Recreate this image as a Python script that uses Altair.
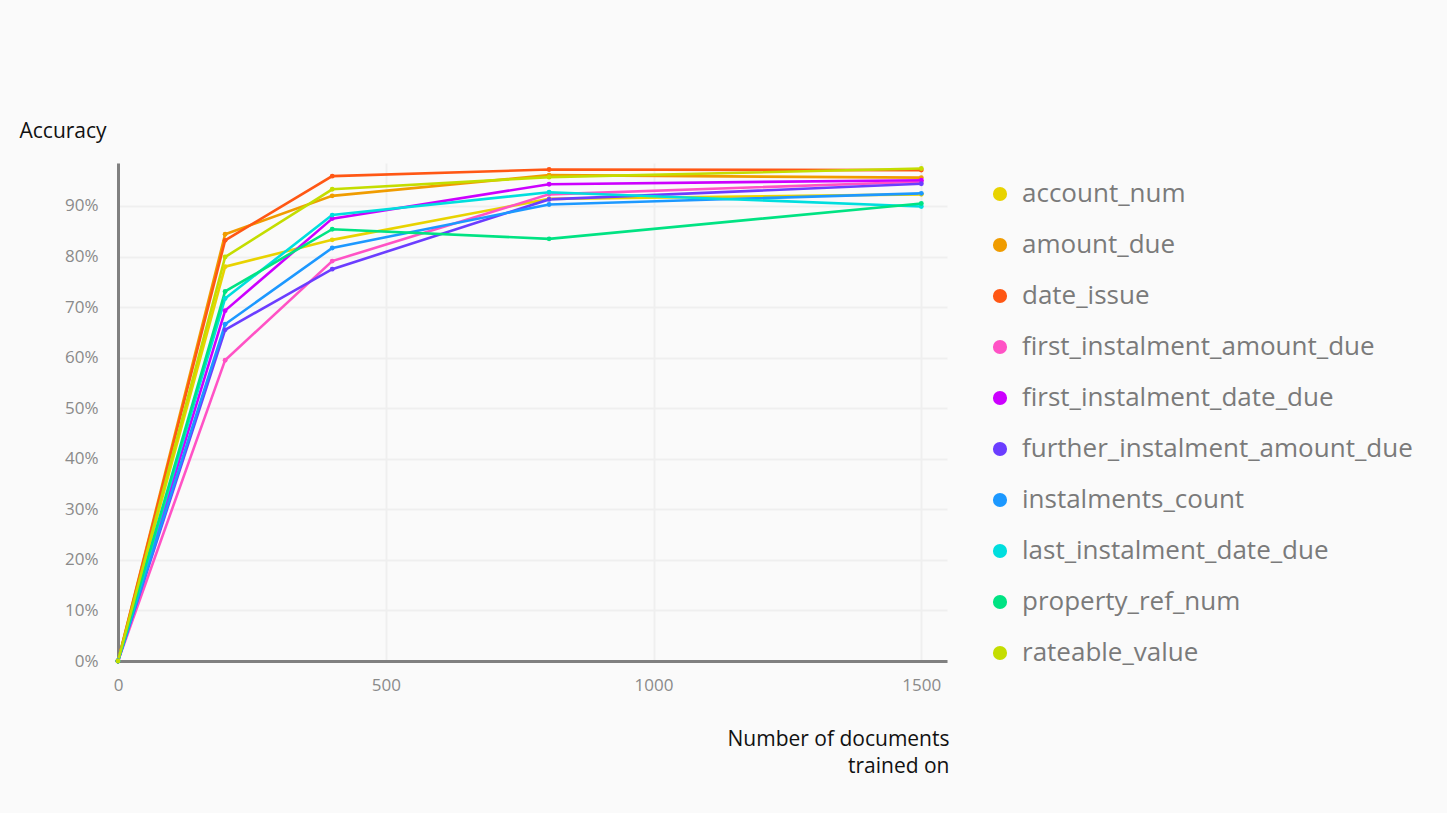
import altair as alt
import pandas as pd

series = [
    "account_num",
    "amount_due",
    "date_issue",
    "first_instalment_amount_due",
    "first_instalment_date_due",
    "further_instalment_amount_due",
    "instalments_count",
    "last_instalment_date_due",
    "property_ref_num",
    "rateable_value",
]
colors = ["#e8d300", "#f09c00", "#ff5714", "#ff52c5", "#cc00ff",
          "#6b3dff", "#1c98ff", "#00dede", "#00e383", "#c4dd00"]

docs = [0, 200, 400, 805, 1500]

acc = {
    "account_num":                   [0.0, 0.780, 0.833, 0.914, 0.923],
    "amount_due":                    [0.0, 0.844, 0.920, 0.961, 0.956],
    "date_issue":                    [0.0, 0.832, 0.959, 0.972, 0.971],
    "first_instalment_amount_due":   [0.0, 0.595, 0.791, 0.923, 0.948],
    "first_instalment_date_due":     [0.0, 0.693, 0.875, 0.943, 0.951],
    "further_instalment_amount_due": [0.0, 0.655, 0.775, 0.913, 0.944],
    "instalments_count":             [0.0, 0.666, 0.817, 0.903, 0.925],
    "last_instalment_date_due":      [0.0, 0.717, 0.882, 0.927, 0.899],
    "property_ref_num":              [0.0, 0.731, 0.854, 0.835, 0.905],
    "rateable_value":                [0.0, 0.799, 0.933, 0.957, 0.974],
}

rows = []
for s in series:
    for d, a in zip(docs, acc[s]):
        rows.append({"field": s, "docs": d, "accuracy": a})
df = pd.DataFrame(rows)

FONT = "Open Sans"

x = alt.X(
    "docs:Q",
    scale=alt.Scale(domain=[0, 1548], nice=False, zero=True),
    axis=alt.Axis(
        values=[0, 500, 1000, 1500], format="d", labelFlush=False,
        title=["Number of documents", "trained on"],
        titleAlign="right", titleAnchor="end", titleX=831, titleY=78,
        titleBaseline="middle", titleLineHeight=27,
        titleFontSize=21, titleFontWeight="normal", titleColor="#111111",
        titleFont=FONT,
        labelFontSize=17, labelColor="#8a8a8a", labelPadding=16, labelFont=FONT,
        ticks=False, domainColor="#808080", domainWidth=3,
        gridColor="#efefef", gridWidth=2,
    ),
)
y = alt.Y(
    "accuracy:Q",
    scale=alt.Scale(domain=[0, 0.985], nice=False),
    axis=alt.Axis(
        values=[0, 0.1, 0.2, 0.3, 0.4, 0.5, 0.6, 0.7, 0.8, 0.9],
        format=".0%",
        title="Accuracy", titleAngle=0, titleAlign="left", titleAnchor="start",
        titleX=-99, titleY=-32, titleBaseline="middle",
        titleFontSize=21, titleFontWeight="normal", titleColor="#111111",
        titleFont=FONT,
        labelFontSize=17, labelColor="#8a8a8a", labelPadding=20, labelFont=FONT,
        ticks=False, domainColor="#808080", domainWidth=3,
        gridColor="#efefef", gridWidth=2,
    ),
)
color = alt.Color(
    "field:N",
    scale=alt.Scale(domain=series, range=colors),
    legend=alt.Legend(
        title=None, orient="none", legendX=869, legendY=18,
        symbolType="circle", symbolSize=200, symbolStrokeWidth=0,
        labelFontSize=26, labelColor="#7a7a7a", labelFont=FONT,
        labelOffset=9, rowPadding=25, labelLimit=500,
    ),
)

base = alt.Chart(df)
lines = base.mark_line(strokeWidth=2.6).encode(x=x, y=y, color=color)
points = base.mark_point(filled=True, size=24, opacity=1).encode(
    x="docs:Q", y="accuracy:Q", color=alt.Color("field:N", legend=None,
                                                 scale=alt.Scale(domain=series, range=colors))
)

chart = alt.layer(lines, points).properties(
    width=829, height=498,
    padding={"left": 118, "top": 163, "right": 500, "bottom": 152},
    autosize=alt.AutoSizeParams(type="none"),
    background="#fafafa",
).configure_view(stroke=None)

chart.save("out.html", embed_options={"renderer": "svg", "actions": False})
